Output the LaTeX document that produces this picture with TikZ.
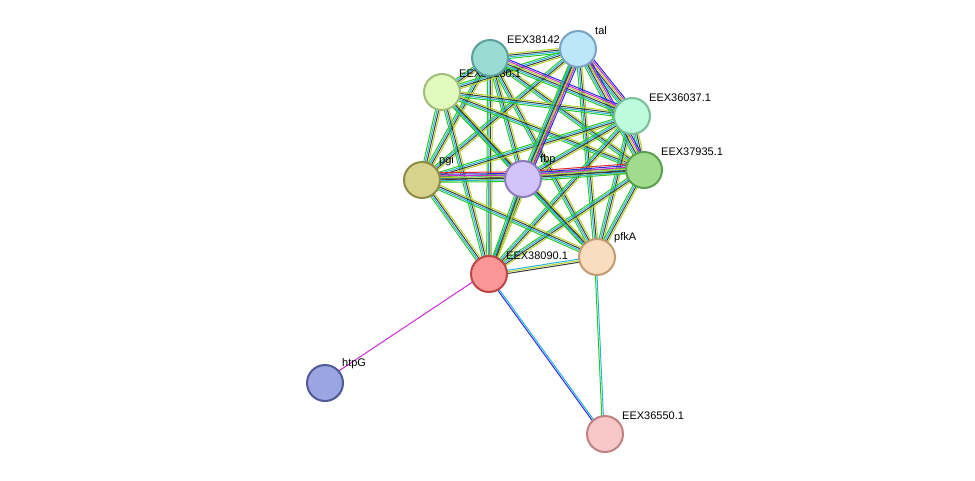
\documentclass[tikz,border=0pt]{standalone}
\usepackage{fontspec}
\setmainfont{Liberation Sans}
\usetikzlibrary{calc}
\definecolor{cG}{RGB}{40,200,40}
\definecolor{cC}{RGB}{40,180,220}
\definecolor{cK}{RGB}{60,60,60}
\definecolor{cY}{RGB}{180,210,40}
\definecolor{cM}{RGB}{210,40,210}
\definecolor{cB}{RGB}{40,40,230}
\definecolor{cR}{RGB}{230,40,40}
\tikzset{
  prot/.style={circle, minimum size=36pt, inner sep=0pt, line width=2pt},
  lab/.style={anchor=south west, font=\fontsize{11}{12}\selectfont, inner sep=1pt},
  link/.style={line width=1pt}
}
% bundle of coloured lines between two nodes
\newcommand{\edge}[3]{%
  \foreach \c [count=\i] in {#3} {
    \pgfmathsetmacro{\o}{(\i-2.5)*1.6}
    \draw[link, \c] ($(#1)!\o pt!90:(#2)$) -- ($(#2)!\o pt!-90:(#1)$);
  }}
\begin{document}
\begin{tikzpicture}[x=1pt, y=-1pt]
\useasboundingbox (0,0) rectangle (975,480);
% positions
\coordinate (p38142) at (490,58);
\coordinate (ptal) at (578,49);
\coordinate (p38130) at (442,92);
\coordinate (p36037) at (632,116);
\coordinate (p37935) at (644,170);
\coordinate (ppgi) at (422,180);
\coordinate (pfbp) at (523,179);
\coordinate (ppfkA) at (597,257);
\coordinate (p38090) at (489,274);
\coordinate (phtpG) at (325,383);
\coordinate (p36550) at (605,434);
% edges
\foreach \a/\b in {p38142/ptal, p38142/p38130, p38142/p37935, p38142/ppgi, p38142/pfbp,
  p38142/ppfkA, p38142/p38090, ptal/p38130, ptal/ppgi, ptal/ppfkA, ptal/p38090,
  p38130/p36037, p38130/p37935, p38130/ppgi, p38130/pfbp, p38130/ppfkA, p38130/p38090,
  p36037/p37935, p36037/ppgi, p36037/pfbp, p36037/ppfkA, p36037/p38090,
  p37935/ppgi, p37935/ppfkA, p37935/p38090, ppgi/ppfkA, ppgi/p38090,
  pfbp/ppfkA, pfbp/p38090}
  {\edge{\a}{\b}{cG,cC,cK,cY}}
\foreach \a/\b in {ptal/p36037, ptal/p37935, p38142/p36037, ptal/pfbp}
  {\edge{\a}{\b}{cG,cC,cK,cY,cM,cB}}
\foreach \a/\b in {ppgi/pfbp, pfbp/p37935}
  {\edge{\a}{\b}{cG,cC,cK,cY,cM,cB,cR}}
\edge{p38090}{ppfkA}{cK,cY,cC}
\edge{p38090}{phtpG}{cM}
\edge{p38090}{p36550}{cB,cC}
\edge{ppfkA}{p36550}{cG,cC}
% labels
\node[lab] (l38142) at ($(p38142)+(16,-13)$) {EEX38142.1};
\node[lab] (ltal) at ($(ptal)+(16,-13)$) {tal};
\node[lab] (l38130) at ($(p38130)+(16,-13)$) {EEX38130.1};
\node[lab] (l36037) at ($(p36037)+(16,-13)$) {EEX36037.1};
\node[lab] (l37935) at ($(p37935)+(16,-13)$) {EEX37935.1};
\node[lab] (lpgi) at ($(ppgi)+(16,-13)$) {pgi};
\node[lab] (lfbp) at ($(pfbp)+(16,-13)$) {fbp};
\node[lab] (lpfkA) at ($(ppfkA)+(16,-13)$) {pfkA};
\node[lab] (l38090) at ($(p38090)+(16,-13)$) {EEX38090.1};
\node[lab] (lhtpG) at ($(phtpG)+(16,-13)$) {htpG};
\node[lab] (l36550) at ($(p36550)+(16,-13)$) {EEX36550.1};
% proteins
\node[prot, fill={rgb,255:red,153;green,219;blue,211}, draw={rgb,255:red,90;green,160;blue,155}] (n38142) at (p38142) {};
\node[prot, fill={rgb,255:red,190;green,230;blue,250}, draw={rgb,255:red,120;green,165;blue,195}] (ntal) at (ptal) {};
\node[prot, fill={rgb,255:red,225;green,250;blue,190}, draw={rgb,255:red,160;green,190;blue,120}] (n38130) at (p38130) {};
\node[prot, fill={rgb,255:red,190;green,250;blue,220}, draw={rgb,255:red,120;green,190;blue,150}] (n36037) at (p36037) {};
\node[prot, fill={rgb,255:red,160;green,220;blue,140}, draw={rgb,255:red,90;green,160;blue,80}] (n37935) at (p37935) {};
\node[prot, fill={rgb,255:red,215;green,210;blue,140}, draw={rgb,255:red,140;green,140;blue,70}] (npgi) at (ppgi) {};
\node[prot, fill={rgb,255:red,210;green,195;blue,250}, draw={rgb,255:red,140;green,125;blue,190}] (nfbp) at (pfbp) {};
\node[prot, fill={rgb,255:red,250;green,220;blue,190}, draw={rgb,255:red,195;green,155;blue,115}] (npfkA) at (ppfkA) {};
\node[prot, fill={rgb,255:red,250;green,150;blue,150}, draw={rgb,255:red,190;green,70;blue,70}] (n38090) at (p38090) {};
\node[prot, fill={rgb,255:red,155;green,165;blue,225}, draw={rgb,255:red,80;green,90;blue,150}] (nhtpG) at (phtpG) {};
\node[prot, fill={rgb,255:red,248;green,200;blue,200}, draw={rgb,255:red,190;green,130;blue,130}] (n36550) at (p36550) {};
\end{tikzpicture}
\end{document}
